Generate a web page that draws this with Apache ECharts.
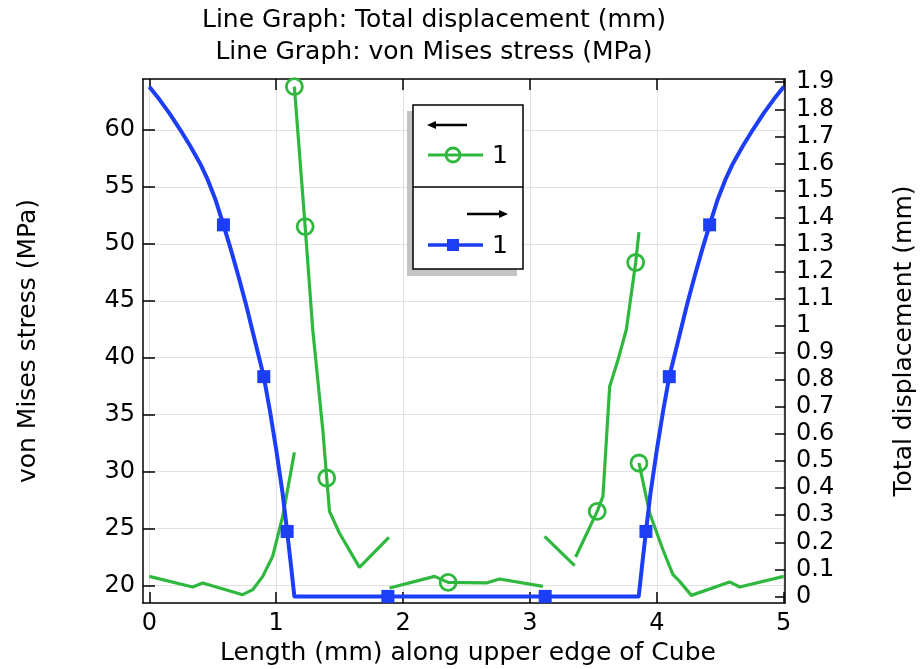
<!DOCTYPE html>
<html>
<head>
<meta charset="utf-8">
<title>Line Graph: Total displacement / von Mises stress</title>
<script src="https://cdn.jsdelivr.net/npm/echarts@6/dist/echarts.min.js"></script>
<style>
  html, body { margin: 0; padding: 0; background: #ffffff; }
  #chart { width: 923px; height: 669px; }
</style>
</head>
<body>
<div id="chart"></div>
<script>
// Tick labels
const lengthTicks = [0, 1, 2, 3, 4, 5];
const stressTicks = [20, 25, 30, 35, 40, 45, 50, 55, 60];
const displacementTicks = [0, 0.1, 0.2, 0.3, 0.4, 0.5, 0.6, 0.7, 0.8, 0.9, 1,
  1.1, 1.2, 1.3, 1.4, 1.5, 1.6, 1.7, 1.8, 1.9];

const titleLines = ['Line Graph: Total displacement (mm)', 'Line Graph: von Mises stress (MPa)'];
const lengthName = 'Length (mm) along upper edge of Cube';
const stressName = 'von Mises stress (MPa)';
const displacementName = 'Total displacement (mm)';

// von Mises stress along the edge, one array per element-wise piece.
// Each point: [length (mm), stress (MPa), marker flag]
const stressPiece1 = [[0, 20.79, 0], [0.341, 19.86, 0], [0.420, 20.21, 0], [0.736, 19.18, 0],
  [0.815, 19.62, 0], [0.894, 20.79, 0], [0.972, 22.55, 0], [1.051, 26.06, 0],
  [1.104, 29.28, 0], [1.143, 31.68, 0]];
const stressPiece2 = [[1.143, 63.81, 1], [1.228, 51.52, 1], [1.288, 42.45, 0], [1.367, 33.67, 0],
  [1.398, 29.43, 1], [1.420, 26.50, 0], [1.498, 24.60, 0], [1.656, 21.58, 0], [1.888, 24.21, 0]];
const stressPiece3 = [[1.893, 19.77, 0], [2.248, 20.79, 0], [2.355, 20.26, 1], [2.656, 20.21, 0],
  [2.760, 20.56, 0], [3.102, 19.91, 0]];
const stressPiece4 = [[3.115, 24.30, 0], [3.352, 21.73, 0]];
const stressPiece5 = [[3.360, 22.49, 0], [3.530, 26.50, 1], [3.575, 27.81, 0], [3.588, 30.16, 0],
  [3.628, 37.47, 0], [3.694, 39.82, 0], [3.759, 42.45, 0], [3.833, 48.36, 1], [3.859, 51.03, 0]];
const stressPiece6 = [[3.859, 30.75, 1], [3.943, 26.36, 0], [4.048, 23.13, 0], [4.127, 20.94, 0],
  [4.180, 20.35, 0], [4.272, 19.12, 0], [4.574, 20.30, 0], [4.653, 19.86, 0], [5, 20.79, 0]];

// Total displacement along the edge. Each point: [length (mm), displacement (mm), marker flag]
const displacementLeft = [[0, 1.883, 0], [0.08, 1.836, 0], [0.16, 1.784, 0], [0.24, 1.727, 0],
  [0.32, 1.666, 0], [0.40, 1.600, 0], [0.46, 1.540, 0], [0.52, 1.468, 0], [0.584, 1.373, 1],
  [0.64, 1.286, 0], [0.70, 1.187, 0], [0.76, 1.082, 0], [0.82, 0.968, 0], [0.86, 0.892, 0],
  [0.902, 0.812, 1], [0.95, 0.687, 0], [1.00, 0.542, 0], [1.05, 0.382, 0], [1.086, 0.240, 1],
  [1.115, 0.120, 0], [1.143, 0, 0]];
const displacementMiddle = [[1.880, 0, 1], [3.120, 0, 1]];
const displacementRight = [[3.857, 0, 0], [3.885, 0.120, 0], [3.914, 0.240, 1], [3.95, 0.382, 0],
  [4.00, 0.542, 0], [4.05, 0.687, 0], [4.098, 0.812, 1], [4.14, 0.892, 0], [4.18, 0.968, 0],
  [4.24, 1.082, 0], [4.30, 1.187, 0], [4.36, 1.286, 0], [4.416, 1.373, 1], [4.48, 1.468, 0],
  [4.54, 1.540, 0], [4.60, 1.600, 0], [4.68, 1.666, 0], [4.76, 1.727, 0], [4.84, 1.784, 0],
  [4.92, 1.836, 0], [5, 1.883, 0]];

const FONT = 'DejaVu Sans';
const GREEN = '#2fb83e';
const BLUE = '#1b3ef6';
const GRID_COLOR = '#e2e2e2';

// Join pieces into one line series; a '-' item breaks the line between pieces.
function buildLineData(pieces, markerSymbol) {
  const out = [];
  pieces.forEach((piece, i) => {
    if (i > 0) out.push({ value: ['-', '-'], symbol: 'none' });
    piece.forEach(p => out.push({ value: [p[0], p[1]], symbol: p[2] ? markerSymbol : 'none' }));
  });
  return out;
}

const stressData = buildLineData(
  [stressPiece1, stressPiece2, stressPiece3, stressPiece4, stressPiece5, stressPiece6], 'circle');
const displacementData = buildLineData(
  [displacementLeft.concat(displacementMiddle, displacementRight)], 'rect');

const axisLineStyle = { color: '#000', width: 1.5 };
const labelStyle = { fontFamily: FONT, fontSize: 24, color: '#000' };
const nameStyle = { fontFamily: FONT, fontSize: 25, color: '#000' };

const chart = echarts.init(document.getElementById('chart'), null, { renderer: 'canvas' });

chart.setOption({
  backgroundColor: '#ffffff',
  animation: false,
  grid: { left: 143, top: 79, right: 138, bottom: 66, containLabel: false, outerBoundsMode: 'none' },
  xAxis: [
    {
      type: 'value', position: 'bottom', min: -0.05, max: 5.01,
      minInterval: 1, maxInterval: 1,
      name: lengthName, nameLocation: 'middle', nameGap: 32,
      nameTextStyle: Object.assign({ padding: [0, 0, 0, 8] }, nameStyle),
      axisLine: { onZero: false, lineStyle: axisLineStyle },
      axisTick: { inside: true, length: 11, customValues: lengthTicks, lineStyle: axisLineStyle },
      axisLabel: Object.assign({ margin: 9, customValues: lengthTicks, alignMinLabel: 'center', alignMaxLabel: 'center' }, labelStyle),
      splitLine: { show: true, lineStyle: { color: GRID_COLOR, width: 1 } }
    },
    {
      type: 'value', position: 'top', min: -0.05, max: 5.01,
      minInterval: 1, maxInterval: 1,
      axisLine: { onZero: false, lineStyle: axisLineStyle },
      axisTick: { inside: true, length: 11, customValues: lengthTicks, lineStyle: axisLineStyle },
      axisLabel: { show: false },
      splitLine: { show: false }
    }
  ],
  yAxis: [
    {
      type: 'value', position: 'left', min: 18.45, max: 64.48,
      minInterval: 5, maxInterval: 5,
      name: stressName, nameLocation: 'middle', nameRotate: 90, nameGap: 102,
      nameTextStyle: nameStyle,
      axisLine: { onZero: false, lineStyle: axisLineStyle },
      axisTick: { inside: true, length: 12, customValues: stressTicks, lineStyle: axisLineStyle },
      axisLabel: Object.assign({ margin: 8, customValues: stressTicks }, labelStyle),
      splitLine: { show: true, lineStyle: { color: GRID_COLOR, width: 1 } }
    },
    {
      type: 'value', position: 'right', min: -0.0244, max: 1.912,
      minInterval: 0.1, maxInterval: 0.1, alignTicks: false,
      name: displacementName, nameLocation: 'middle', nameRotate: 90, nameGap: 107,
      nameTextStyle: nameStyle,
      axisLine: { onZero: false, lineStyle: axisLineStyle },
      axisTick: { inside: true, length: 10, customValues: displacementTicks, lineStyle: axisLineStyle },
      axisLabel: Object.assign({ margin: 11, customValues: displacementTicks }, labelStyle),
      splitLine: { show: false }
    }
  ],
  series: [
    {
      name: 'von Mises stress',
      type: 'line',
      xAxisIndex: 0, yAxisIndex: 0,
      data: stressData,
      connectNulls: false,
      symbol: 'circle', symbolSize: 16, showSymbol: true,
      itemStyle: { color: 'rgba(0,0,0,0)', borderColor: GREEN, borderWidth: 2.8 },
      lineStyle: { color: GREEN, width: 3.2 },
      emphasis: { disabled: true },
      z: 2
    },
    {
      name: 'Total displacement',
      type: 'line',
      xAxisIndex: 0, yAxisIndex: 1,
      data: displacementData,
      symbol: 'rect', symbolSize: 13, showSymbol: true,
      itemStyle: { color: BLUE },
      lineStyle: { color: BLUE, width: 4, join: 'round' },
      emphasis: { disabled: true },
      z: 3
    }
  ],
  graphic: [
    // two-line title
    { type: 'text', x: 434, y: 20, style: { text: titleLines[0], font: '25px "DejaVu Sans"', fill: '#000', align: 'center', verticalAlign: 'middle' } },
    { type: 'text', x: 434, y: 52, style: { text: titleLines[1], font: '25px "DejaVu Sans"', fill: '#000', align: 'center', verticalAlign: 'middle' } },
    // legend box with drop shadow
    { type: 'rect', shape: { x: 407, y: 111, width: 110, height: 165 }, style: { fill: '#c4c4c4' }, z: 10 },
    { type: 'rect', shape: { x: 413, y: 105, width: 110, height: 164 }, style: { fill: '#fff', stroke: '#000', lineWidth: 1.5 }, z: 11 },
    { type: 'line', shape: { x1: 413, y1: 187, x2: 523, y2: 187 }, style: { stroke: '#000', lineWidth: 1.5 }, z: 12 },
    // left-axis arrow
    { type: 'line', shape: { x1: 433, y1: 125, x2: 467, y2: 125 }, style: { stroke: '#000', lineWidth: 2.5 }, z: 12 },
    { type: 'polygon', shape: { points: [[427, 125], [436, 121], [436, 129]] }, style: { fill: '#000' }, z: 12 },
    // stress sample
    { type: 'line', shape: { x1: 428, y1: 155, x2: 483, y2: 155 }, style: { stroke: GREEN, lineWidth: 3 }, z: 12 },
    { type: 'circle', shape: { cx: 453, cy: 155, r: 7 }, style: { fill: 'none', stroke: GREEN, lineWidth: 2.8 }, z: 12 },
    { type: 'text', x: 492, y: 156, style: { text: '1', font: '25px "DejaVu Sans"', fill: '#000', align: 'left', verticalAlign: 'middle' }, z: 12 },
    // right-axis arrow
    { type: 'line', shape: { x1: 467, y1: 214, x2: 502, y2: 214 }, style: { stroke: '#000', lineWidth: 2.5 }, z: 12 },
    { type: 'polygon', shape: { points: [[508, 214], [499, 210], [499, 218]] }, style: { fill: '#000' }, z: 12 },
    // displacement sample
    { type: 'line', shape: { x1: 428, y1: 245, x2: 483, y2: 245 }, style: { stroke: BLUE, lineWidth: 3.4 }, z: 12 },
    { type: 'rect', shape: { x: 447, y: 239, width: 12, height: 12 }, style: { fill: BLUE }, z: 12 },
    { type: 'text', x: 492, y: 246, style: { text: '1', font: '25px "DejaVu Sans"', fill: '#000', align: 'left', verticalAlign: 'middle' }, z: 12 }
  ]
});
</script>
</body>
</html>
